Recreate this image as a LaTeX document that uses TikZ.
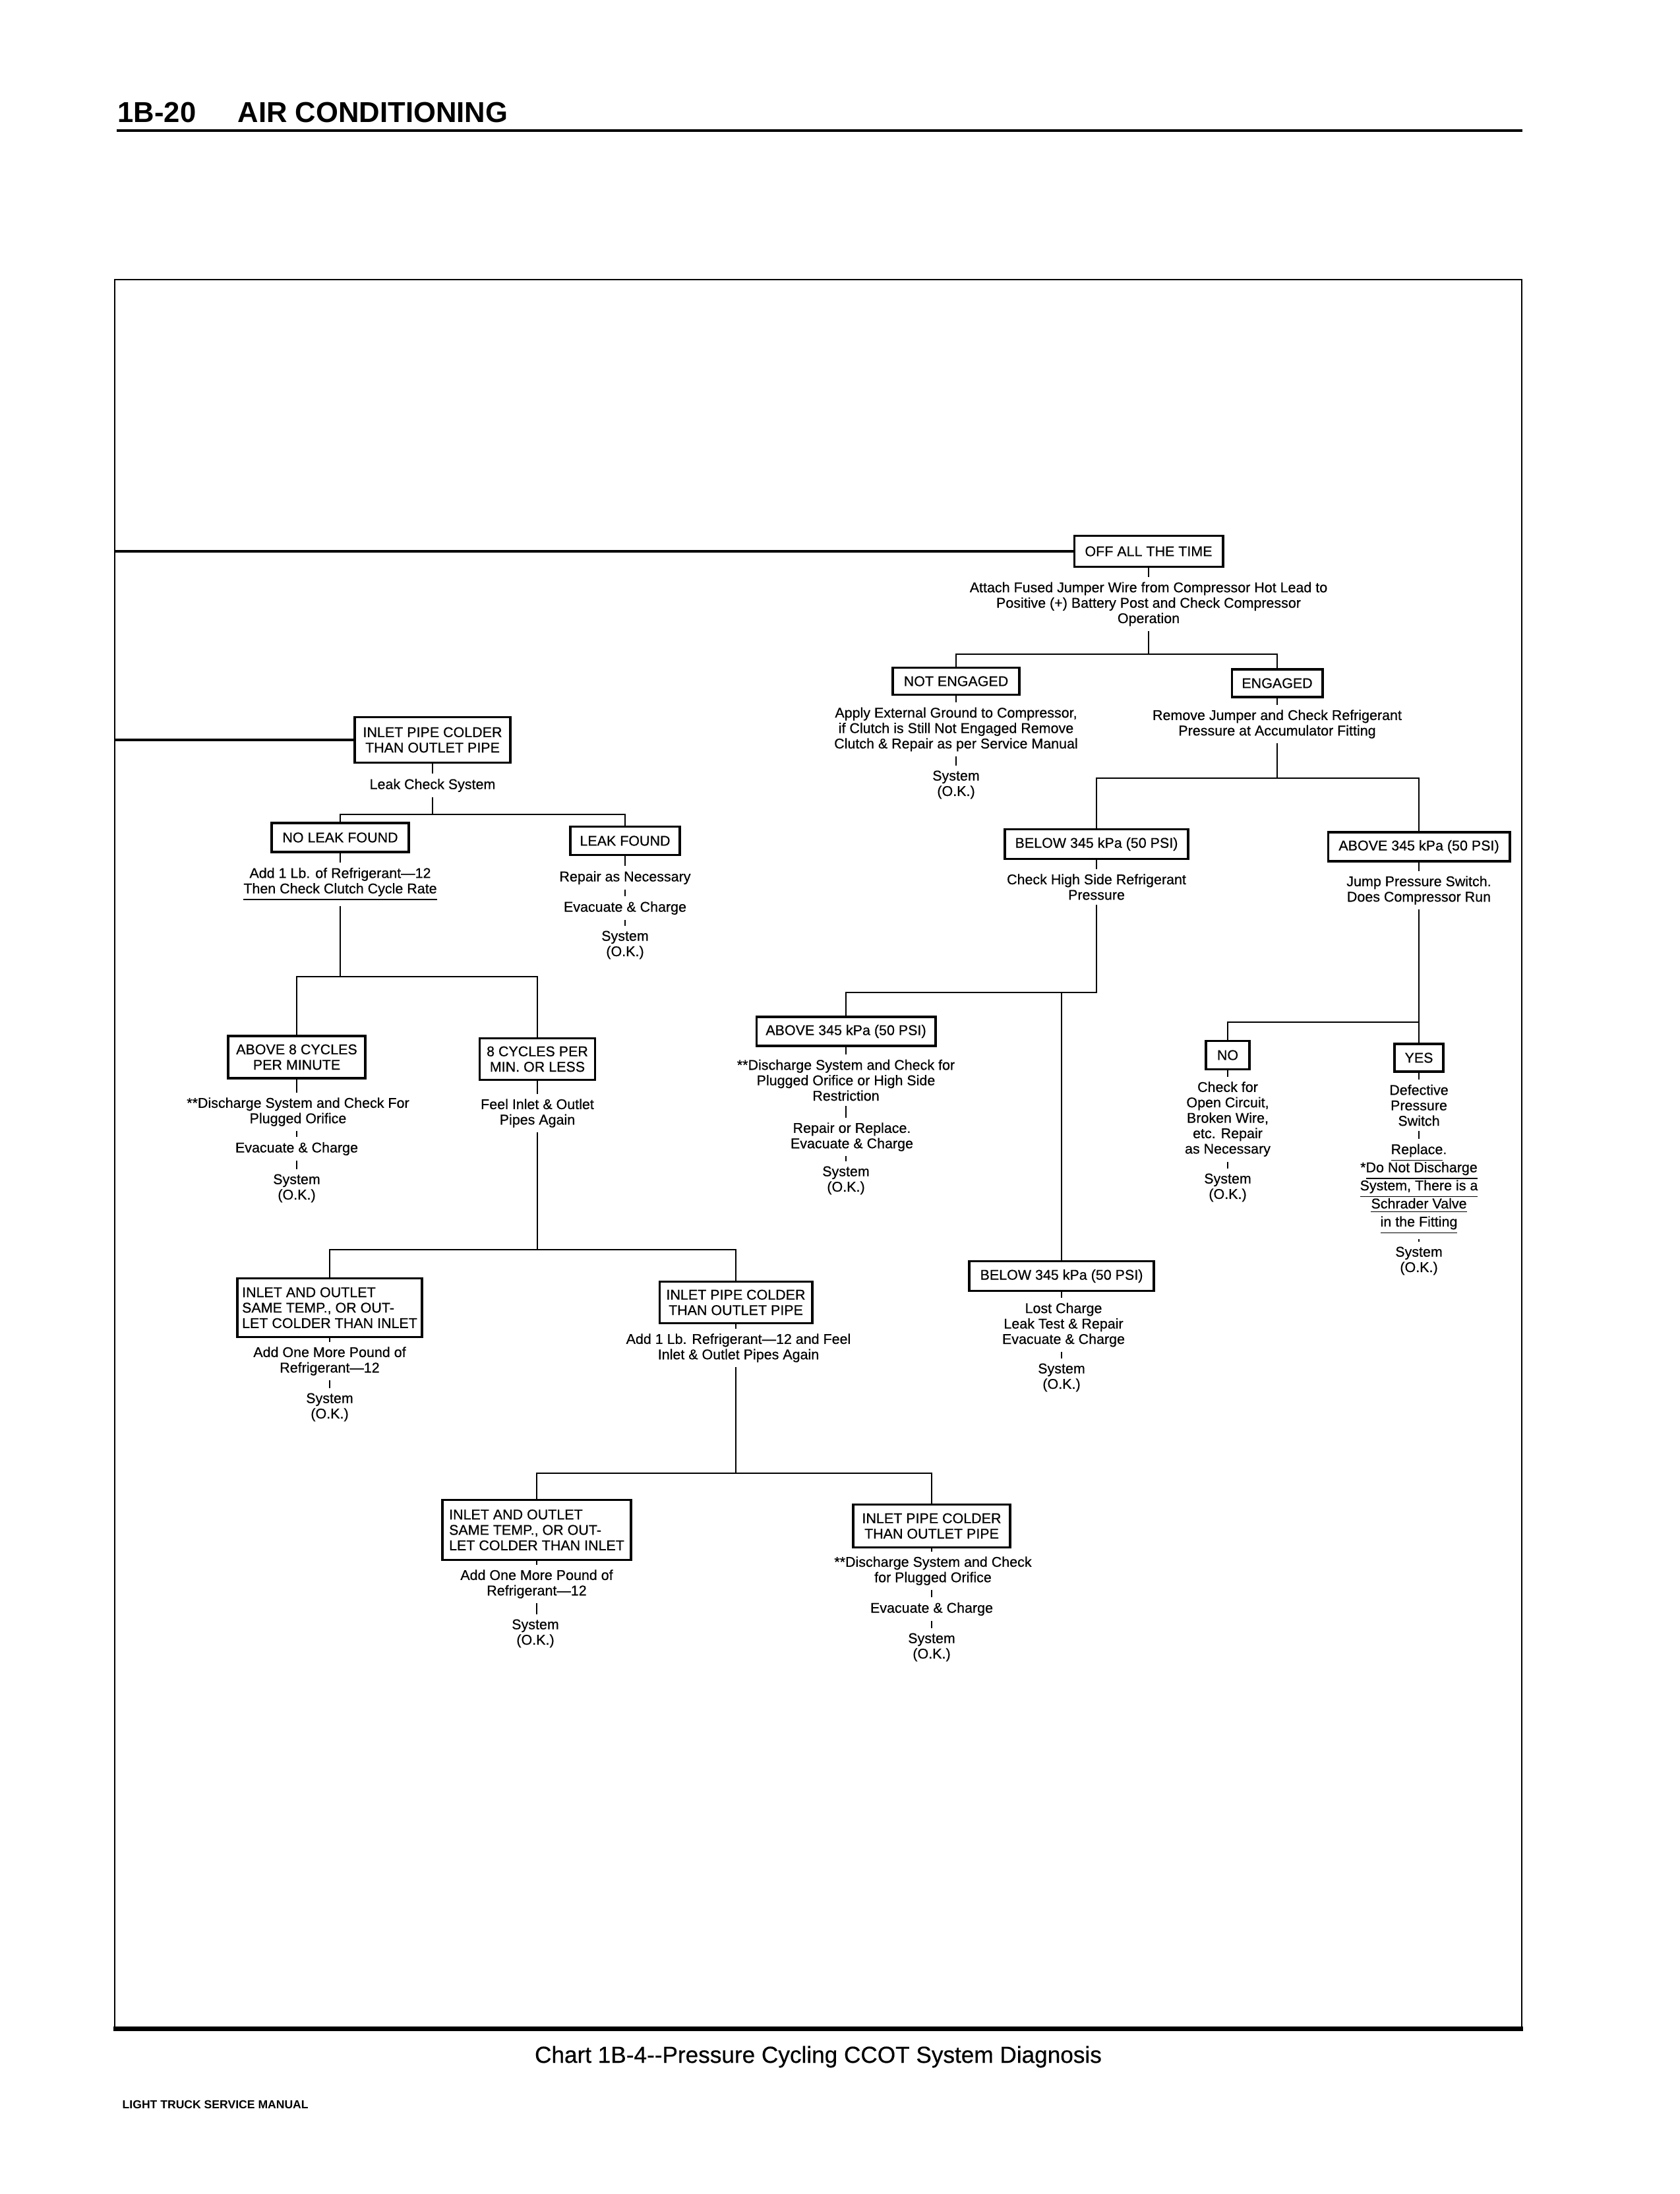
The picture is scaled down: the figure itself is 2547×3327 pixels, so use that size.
\documentclass[tikz,border=0pt]{standalone}
\usepackage{fontspec}
\setmainfont{Liberation Sans}
\newfontfamily\cf[FakeBold=0.5]{Liberation Sans}
\begin{document}
\begin{tikzpicture}[x=0.01cm,y=-0.01cm,
  every node/.style={font=\cf\fontsize{6.1}{6.65}\selectfont},
  bx/.style={draw, line width=1.1pt, inner sep=0pt, align=center},
  tx/.style={align=center, inner sep=2pt},
  conn/.style={line width=0.75pt},
  mainline/.style={line width=1pt}]
\useasboundingbox (0,0) rectangle (2547,3327);
% header
\node[font=\fontsize{12.4}{14}\selectfont\bfseries, anchor=base west, inner sep=0pt] (hd1) at (178,185) {1B-20};
\node[font=\fontsize{12.4}{14}\selectfont\bfseries, anchor=base west, inner sep=0pt] (hd2) at (360,185) {AIR CONDITIONING};
\draw[line width=1.15pt] (177,198) -- (2309,198);
% frame
\draw[line width=0.8pt] (174,3076) -- (174,424) -- (2308,424) -- (2308,3076);
\draw[line width=2pt] (172,3076) -- (2310,3076);
\coordinate (FL) at (174,0);
% caption and footer
\node[font=\cf\fontsize{10}{12}\selectfont, anchor=base, inner sep=0pt] (cap) at (1241,3128) {Chart 1B-4{-}{-}Pressure Cycling CCOT System Diagnosis};
\node[font=\fontsize{5}{6}\selectfont\bfseries, anchor=base west, inner sep=0pt] (ftr) at (185,3197) {LIGHT TRUCK SERVICE MANUAL};

% ===== right upper part =====
\node[bx, minimum width=2.25cm, minimum height=0.47cm] (off) at (1742,836) {OFF ALL THE TIME};
\node[tx] (att) at (1742,916) {Attach Fused Jumper Wire from Compressor Hot Lead to\\Positive (+) Battery Post and Check Compressor\\Operation};
\node[bx, minimum width=1.92cm, minimum height=0.41cm] (ne) at (1450,1033) {NOT ENGAGED};
\node[bx, minimum width=1.37cm, minimum height=0.42cm] (en) at (1937,1036) {ENGAGED};
\node[tx] (app) at (1450,1106) {Apply External Ground to Compressor,\\if Clutch is Still Not Engaged Remove\\Clutch \& Repair as per Service Manual};
\node[tx] (sysne) at (1450,1190) {System\\(O.K.)};
\node[tx] (rem) at (1937,1098) {Remove Jumper and Check Refrigerant\\Pressure at Accumulator Fitting};
\node[bx, minimum width=2.78cm, minimum height=0.45cm] (bl1) at (1663,1280) {BELOW 345 kPa (50 PSI)};
\node[bx, minimum width=2.75cm, minimum height=0.44cm] (ab1) at (2152,1284) {ABOVE 345 kPa (50 PSI)};
\node[tx] (chk) at (1663,1345) {Check High Side Refrigerant\\Pressure};
\node[tx] (jmp) at (2152,1350) {Jump Pressure Switch.\\Does Compressor Run};
\node[bx, minimum width=2.71cm, minimum height=0.44cm] (ab2) at (1283,1564) {ABOVE 345 kPa (50 PSI)};
\node[tx] (dis2) at (1283,1638) {**Discharge System and Check for\\Plugged Orifice or High Side\\Restriction};
\node[tx] (rep2) at (1292,1724) {Repair or Replace.\\Evacuate \& Charge};
\node[tx] (sys2) at (1283,1790) {System\\(O.K.)};
\node[bx, minimum width=2.80cm, minimum height=0.45cm] (bl2) at (1610,1935) {BELOW 345 kPa (50 PSI)};
\node[tx] (lost) at (1613,2009) {Lost Charge\\Leak Test \& Repair\\Evacuate \& Charge};
\node[tx] (sys3) at (1610,2089) {System\\(O.K.)};
\node[bx, minimum width=0.66cm, minimum height=0.43cm] (no) at (1862,1600) {NO};
\node[bx, minimum width=0.74cm, minimum height=0.42cm] (yes) at (2152,1604) {YES};
\node[tx] (chkf) at (1862,1697) {Check for\\Open Circuit,\\Broken Wire,\\etc. Repair\\as Necessary};
\node[tx] (sysno) at (1862,1801) {System\\(O.K.)};
\node[tx] (def) at (2152,1676) {Defective\\Pressure\\Switch};
\node[tx, font=\cf\fontsize{6.1}{7.8}\selectfont] (repl) at (2152,1803) {\underline{Replace}.\\*\underline{Do Not Discharge}\\\underline{System, There is a}\\\underline{Schrader Valve}\\\underline{in the Fitting}};
\node[tx] (sysyes) at (2152,1912) {System\\(O.K.)};

% ===== left part =====
\node[bx, minimum width=2.36cm, minimum height=0.69cm] (in1) at (656,1122) {INLET PIPE COLDER\\THAN OUTLET PIPE};
\node[tx] (leak) at (656,1191) {Leak Check System};
\node[bx, minimum width=2.08cm, minimum height=0.44cm] (nlf) at (516,1270) {NO LEAK FOUND};
\node[bx, minimum width=1.66cm, minimum height=0.43cm] (lf) at (948,1275) {LEAK FOUND};
\node[tx] (add1) at (516,1341) {Add 1 Lb. of Refrigerant—12\\\underline{Then Check Clutch Cycle Rate}};
\node[tx] (rpn) at (948,1331) {Repair as Necessary};
\node[tx] (evc1) at (948,1377) {Evacuate \& Charge};
\node[tx] (syslf) at (948,1433) {System\\(O.K.)};
\node[bx, minimum width=2.08cm, minimum height=0.64cm] (a8) at (450,1603) {ABOVE 8 CYCLES\\PER MINUTE};
\node[bx, minimum width=1.75cm, minimum height=0.63cm] (c8) at (815,1606) {8 CYCLES PER\\MIN. OR LESS};
\node[tx] (dis1) at (452,1686) {**Discharge System and Check For\\Plugged Orifice};
\node[tx] (evc2) at (450,1742) {Evacuate \& Charge};
\node[tx] (sysa8) at (450,1802) {System\\(O.K.)};
\node[tx] (feel) at (815,1688) {Feel Inlet \& Outlet\\Pipes Again};
\node[bx, align=left, minimum width=2.79cm, minimum height=0.89cm] (iao1) at (500,1983) {INLET AND OUTLET\\SAME TEMP., OR OUT-\\LET COLDER THAN INLET};
\node[bx, minimum width=2.31cm, minimum height=0.63cm] (ip2) at (1116,1975) {INLET PIPE COLDER\\THAN OUTLET PIPE};
\node[tx] (addm1) at (500,2064) {Add One More Pound of\\Refrigerant—12};
\node[tx] (sysi1) at (500,2134) {System\\(O.K.)};
\node[tx] (addf) at (1120,2044) {Add 1 Lb. Refrigerant—12 and Feel\\Inlet \& Outlet Pipes Again};
\node[bx, align=left, minimum width=2.85cm, minimum height=0.91cm] (iao2) at (814,2320) {INLET AND OUTLET\\SAME TEMP., OR OUT-\\LET COLDER THAN INLET};
\node[bx, minimum width=2.38cm, minimum height=0.65cm] (ip3) at (1413,2314) {INLET PIPE COLDER\\THAN OUTLET PIPE};
\node[tx] (addm2) at (814,2402) {Add One More Pound of\\Refrigerant—12};
\node[tx] (sysi2) at (812,2477) {System\\(O.K.)};
\node[tx] (dis3) at (1415,2382) {**Discharge System and Check\\for Plugged Orifice};
\node[tx] (evc3) at (1413,2440) {Evacuate \& Charge};
\node[tx] (sysi3) at (1413,2498) {System\\(O.K.)};

% junctions
\coordinate (jT) at (1742,992);
\coordinate (jE) at (1937,1180);
\coordinate (jB) at (1663,1505);
\coordinate (jB2) at (1610,1505);
\coordinate (jNY) at (2152,1550);
\coordinate (jL) at (656,1235);
\coordinate (jC) at (516,1481);
\coordinate (jF) at (815,1895);
\coordinate (jA) at (1116,2234);

% main lines from the left frame
\draw[mainline] (off.west) -- (off.west -| FL);
\draw[mainline] (in1.west) -- (in1.west -| FL);

% connectors right part
\draw[conn] (off.south) -- (off.south |- att.north);
\draw[conn] (off.south |- att.south) -- (jT);
\draw[conn] (ne.north) |- (jT) -| (en.north);
\draw[conn] (ne.south) -- (ne.south |- app.north);
\draw[conn] (ne.south |- app.south) -- (ne.south |- sysne.north);
\draw[conn] (en.south) -- (en.south |- rem.north);
\draw[conn] (en.south |- rem.south) -- (jE);
\draw[conn] (bl1.north) |- (jE) -| (ab1.north);
\draw[conn] (bl1.south) -- (bl1.south |- chk.north);
\draw[conn] (bl1.south |- chk.south) -- (jB) -| (ab2.north);
\draw[conn] (jB2) -- (bl2.north);
\draw[conn] (ab1.south) -- (ab1.south |- jmp.north);
\draw[conn] (ab1.south |- jmp.south) -- (yes.north);
\draw[conn] (jNY) -| (no.north);
\draw[conn] (ab2.south) -- (ab2.south |- dis2.north);
\draw[conn] (ab2.south |- dis2.south) -- (ab2.south |- rep2.north);
\draw[conn] (ab2.south |- rep2.south) -- (ab2.south |- sys2.north);
\draw[conn] (bl2.south) -- (bl2.south |- lost.north);
\draw[conn] (bl2.south |- lost.south) -- (sys3.north);
\draw[conn] (no.south) -- (chkf.north);
\draw[conn] (chkf.south) -- (sysno.north);
\draw[conn] (yes.south) -- (def.north);
\draw[conn] (def.south) -- (repl.north);
\draw[conn] (repl.south) -- (sysyes.north);

% connectors left part
\draw[conn] (in1.south) -- (leak.north);
\draw[conn] (leak.south) -- (jL);
\draw[conn] (nlf.north) |- (jL) -| (lf.north);
\draw[conn] (nlf.south) -- (add1.north);
\draw[conn] (add1.south) -- (jC);
\draw[conn] (lf.south) -- (rpn.north);
\draw[conn] (rpn.south) -- (evc1.north);
\draw[conn] (evc1.south) -- (syslf.north);
\draw[conn] (a8.north) |- (jC) -| (c8.north);
\draw[conn] (a8.south) -- (a8.south |- dis1.north);
\draw[conn] (a8.south |- dis1.south) -- (evc2.north);
\draw[conn] (evc2.south) -- (sysa8.north);
\draw[conn] (c8.south) -- (feel.north);
\draw[conn] (feel.south) -- (jF);
\draw[conn] (iao1.north) |- (jF) -| (ip2.north);
\draw[conn] (iao1.south) -- (addm1.north);
\draw[conn] (addm1.south) -- (sysi1.north);
\draw[conn] (ip2.south) -- (ip2.south |- addf.north);
\draw[conn] (ip2.south |- addf.south) -- (jA);
\draw[conn] (iao2.north) |- (jA) -| (ip3.north);
\draw[conn] (iao2.south) -- (iao2.south |- addm2.north);
\draw[conn] (iao2.south |- addm2.south) -- (iao2.south |- sysi2.north);
\draw[conn] (ip3.south) -- (ip3.south |- dis3.north);
\draw[conn] (ip3.south |- dis3.south) -- (evc3.north);
\draw[conn] (evc3.south) -- (sysi3.north);
\end{tikzpicture}
\end{document}
